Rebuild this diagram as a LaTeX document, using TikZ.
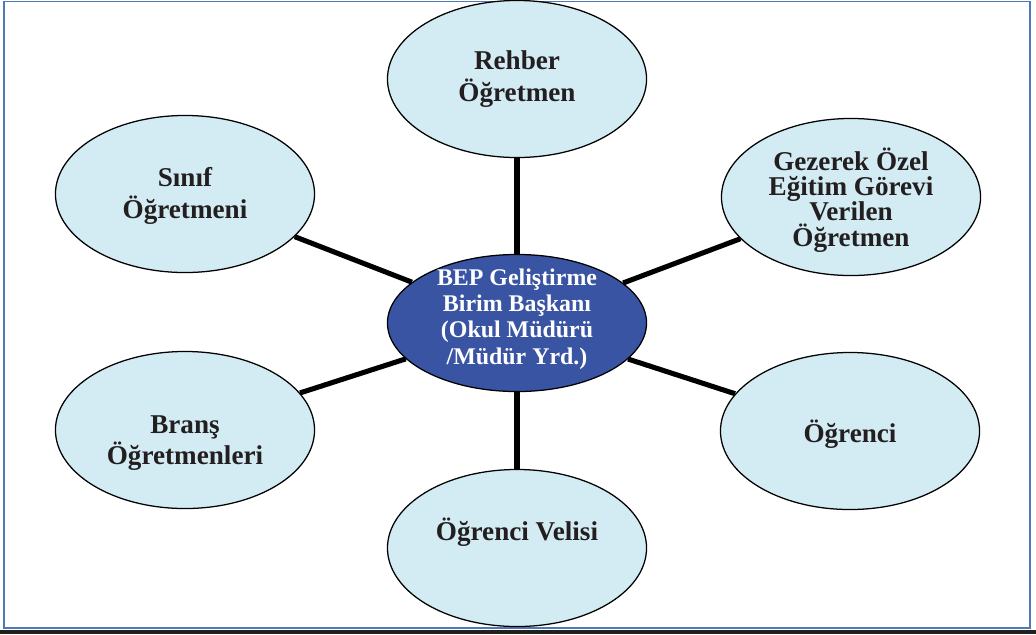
\documentclass[tikz,border=0pt]{standalone}
\usepackage{fontspec}
\setmainfont{Liberation Serif}
\usetikzlibrary{shapes.geometric}
\definecolor{paleblue}{RGB}{211,235,243}
\definecolor{headblue}{RGB}{58,84,164}
\definecolor{frameblue}{RGB}{79,121,181}
\definecolor{inkgray}{RGB}{35,31,32}

\begin{document}
\begin{tikzpicture}[x=0.025cm, y=-0.025cm,
		member/.style={ellipse, draw=black, line width=0.9pt, fill=paleblue, minimum width=6.475cm, minimum height=3.925cm, inner sep=0pt},
		head/.style={ellipse, draw=black, line width=0.9pt, fill=headblue, minimum width=6.475cm, minimum height=3.425cm, inner sep=0pt},
		lbl/.style={align=center, text=inkgray, inner sep=0pt, font=\fontsize{19.3}{22.5}\selectfont\bfseries},
		headlbl/.style={align=center, text=white, inner sep=0pt, font=\fontsize{17}{18.8}\selectfont\bfseries},
		link/.style={line width=3.6pt, black}]
		%%%%% START %%%%%
		\useasboundingbox (0, 0) rectangle (1036, 634);
		\draw[frameblue, line width=1.4pt] (4, 1.5) rectangle (1030, 627.5);
		\fill[inkgray] (0, 630) rectangle (1036, 634);
		
		% center and the six members
		\node[head] (baskan) at (517, 323) {};
		\node[member] (rehber) at (517, 79) {};
		\node[member] (sinif) at (185, 194) {};
		\node[member] (gezerek) at (851, 197) {};
		\node[member] (brans) at (185, 430) {};
		\node[member] (ogrenci) at (850, 431) {};
		\node[member] (veli) at (517, 548) {};
		
		% connectors
		\draw[link] (baskan) -- (rehber);
		\draw[link] (baskan) -- (sinif);
		\draw[link] (baskan) -- (gezerek);
		\draw[link] (baskan) -- (brans);
		\draw[link] (baskan) -- (ogrenci);
		\draw[link] (baskan) -- (veli);
		
		% texts
		\node[headlbl] (baskan-t) at (517, 319) {BEP Geliştirme\\Birim Başkanı\\(Okul Müdürü\\/Müdür Yrd.)};
		\node[lbl] (rehber-t) at (517, 79) {Rehber\\Öğretmen};
		\node[lbl] (sinif-t) at (185, 196) {Sınıf\\Öğretmeni};
		\node[lbl, font=\fontsize{19.3}{18}\selectfont\bfseries] (gezerek-t) at (851, 200) {Gezerek Özel\\Eğitim Görevi\\Verilen\\Öğretmen};
		\node[lbl] (brans-t) at (185, 443) {Branş\\Öğretmenleri};
		\node[lbl] (ogrenci-t) at (850, 434) {Öğrenci};
		\node[lbl] (veli-t) at (517, 532) {Öğrenci Velisi};
		%%%%% END %%%%%
	\end{tikzpicture}
\end{document}
